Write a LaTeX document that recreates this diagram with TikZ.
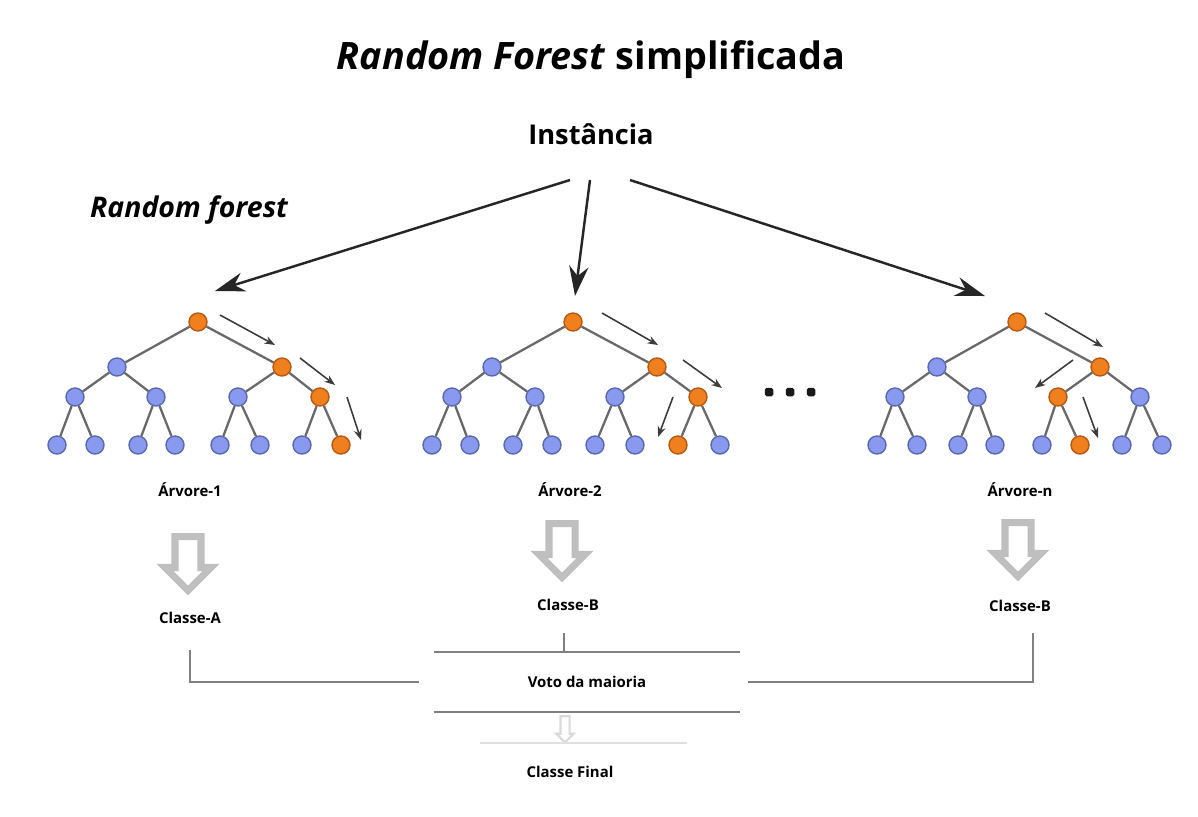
\documentclass[tikz,border=0pt]{standalone}
\usepackage{fontspec}
\setmainfont{Open Sans}
\usetikzlibrary{arrows.meta, shapes.arrows}

\definecolor{nodeblue}{RGB}{138,153,240}
\definecolor{nodeblueline}{RGB}{90,105,170}
\definecolor{nodeorange}{RGB}{240,128,30}
\definecolor{nodeorangeline}{RGB}{180,90,20}
\definecolor{edgegray}{RGB}{105,105,105}
\definecolor{pathgray}{RGB}{60,60,60}

\begin{document}
\begin{tikzpicture}[x=0.02cm,y=-0.02cm,
  tree node/.style={circle,fill=nodeblue,draw=nodeblueline,line width=0.8pt,minimum size=0.36cm,inner sep=0pt},
  hot node/.style={tree node,fill=nodeorange,draw=nodeorangeline},
  tree edge/.style={draw=edgegray,line width=1.3pt},
  path arrow/.style={-{Stealth[length=6pt,width=4.5pt]},draw=pathgray,line width=0.9pt},
  big arrow/.style={-{Stealth[length=17pt,width=11pt]},draw=black!85,line width=1.4pt},
  block arrow/.style={single arrow,draw=black!25,fill=white,line width=4pt,rotate=-90,
    minimum height=1.08cm,inner sep=0.19cm,single arrow head extend=0.2cm},
  small label/.style={font=\bfseries\fontsize{8.5}{10}\selectfont},
  join line/.style={draw=black!50,line width=1.3pt},
  box line/.style={draw=black!50,line width=1pt},
  dot/.style={rectangle,rounded corners=1pt,fill=black!90,minimum size=0.17cm,inner sep=0pt}]

  \useasboundingbox (0,0) rectangle (1198,816);

  % titles
  \node[font=\bfseries\fontsize{21.5}{26}\selectfont] (title) at (591,60) {\textit{Random Forest} simplificada};
  \node[font=\bfseries\fontsize{15.5}{18}\selectfont] (inst) at (591,134) {Instância};
  \node[font=\bfseries\itshape\fontsize{16.2}{19}\selectfont] (rf) at (189,210) {Random forest};

  % tree 1
  \node[hot node] (a0) at (198,322) {};
  \node[tree node] (a1) at (117,367) {};
  \node[hot node] (a2) at (282,367) {};
  \node[tree node] (a3) at (75,397) {};
  \node[tree node] (a4) at (156,397) {};
  \node[tree node] (a5) at (238,397) {};
  \node[hot node] (a6) at (320,397) {};
  \node[tree node] (a7) at (57,445) {};
  \node[tree node] (a8) at (95,445) {};
  \node[tree node] (a9) at (138,445) {};
  \node[tree node] (a10) at (175,445) {};
  \node[tree node] (a11) at (220,445) {};
  \node[tree node] (a12) at (260,445) {};
  \node[tree node] (a13) at (302,445) {};
  \node[hot node] (a14) at (341,445) {};

  % tree 2
  \node[hot node] (b0) at (573,322) {};
  \node[tree node] (b1) at (492,367) {};
  \node[hot node] (b2) at (657,367) {};
  \node[tree node] (b3) at (452,397) {};
  \node[tree node] (b4) at (535,397) {};
  \node[tree node] (b5) at (615,397) {};
  \node[hot node] (b6) at (698,397) {};
  \node[tree node] (b7) at (432,445) {};
  \node[tree node] (b8) at (470,445) {};
  \node[tree node] (b9) at (513,445) {};
  \node[tree node] (b10) at (552,445) {};
  \node[tree node] (b11) at (595,445) {};
  \node[tree node] (b12) at (635,445) {};
  \node[hot node] (b13) at (678,445) {};
  \node[tree node] (b14) at (720,445) {};

  % tree n
  \node[hot node] (c0) at (1017,322) {};
  \node[tree node] (c1) at (937,367) {};
  \node[hot node] (c2) at (1100,367) {};
  \node[tree node] (c3) at (895,397) {};
  \node[tree node] (c4) at (977,397) {};
  \node[hot node] (c5) at (1058,397) {};
  \node[tree node] (c6) at (1140,397) {};
  \node[tree node] (c7) at (877,445) {};
  \node[tree node] (c8) at (917,445) {};
  \node[tree node] (c9) at (958,445) {};
  \node[tree node] (c10) at (995,445) {};
  \node[tree node] (c11) at (1042,445) {};
  \node[hot node] (c12) at (1080,445) {};
  \node[tree node] (c13) at (1122,445) {};
  \node[tree node] (c14) at (1162,445) {};

  \path[tree edge]
    (a0) edge (a1) (a0) edge (a2)
    (a1) edge (a3) (a1) edge (a4) (a2) edge (a5) (a2) edge (a6)
    (a3) edge (a7) (a3) edge (a8) (a4) edge (a9) (a4) edge (a10)
    (a5) edge (a11) (a5) edge (a12) (a6) edge (a13) (a6) edge (a14)
    (b0) edge (b1) (b0) edge (b2)
    (b1) edge (b3) (b1) edge (b4) (b2) edge (b5) (b2) edge (b6)
    (b3) edge (b7) (b3) edge (b8) (b4) edge (b9) (b4) edge (b10)
    (b5) edge (b11) (b5) edge (b12) (b6) edge (b13) (b6) edge (b14)
    (c0) edge (c1) (c0) edge (c2)
    (c1) edge (c3) (c1) edge (c4) (c2) edge (c5) (c2) edge (c6)
    (c3) edge (c7) (c3) edge (c8) (c4) edge (c9) (c4) edge (c10)
    (c5) edge (c11) (c5) edge (c12) (c6) edge (c13) (c6) edge (c14);

  % decision path arrows
  \draw[path arrow] ([shift={(22,-7)}]a0.center) -- ([shift={(-7,-22)}]a2.center);
  \draw[path arrow] ([shift={(18,-9)}]a2.center) -- ([shift={(15,-12)}]a6.center);
  \draw[path arrow] ([shift={(27,0)}]a6.center) -- ([shift={(20,-5)}]a14.center);
  \draw[path arrow] ([shift={(29,-9)}]b0.center) -- ([shift={(1,-22)}]b2.center);
  \draw[path arrow] ([shift={(26,-7)}]b2.center) -- ([shift={(24,-9)}]b6.center);
  \draw[path arrow] ([shift={(-25,0)}]b6.center) -- ([shift={(-20,-8)}]b13.center);
  \draw[path arrow] ([shift={(28,-9)}]c0.center) -- ([shift={(3,-20)}]c2.center);
  \draw[path arrow] ([shift={(-27,-7)}]c2.center) -- ([shift={(-23,-9)}]c5.center);
  \draw[path arrow] ([shift={(25,0)}]c5.center) -- ([shift={(18,-7)}]c12.center);

  % instance arrows
  \coordinate (s1) at (570,180);
  \coordinate (s2) at (590,180);
  \coordinate (s3) at (630,180);
  \coordinate (e1) at (215,291);
  \coordinate (e2) at (575,296);
  \coordinate (e3) at (985,296);
  \draw[big arrow] (s1) -- (e1);
  \draw[big arrow] (s2) -- (e2);
  \draw[big arrow] (s3) -- (e3);

  \node[dot] (d1) at (769,392) {};
  \node[dot] (d2) at (790,392) {};
  \node[dot] (d3) at (811,392) {};

  % votes
  \node[small label] (t1) at (190,490) {Árvore-1};
  \node[small label] (t2) at (570,490) {Árvore-2};
  \node[small label] (t3) at (1020,490) {Árvore-n};
  \node[block arrow] (k1) at (188,557) {};
  \node[block arrow] (k2) at (562,544) {};
  \node[block arrow] (k3) at (1018,543) {};
  \node[small label] (ca) at (190,618) {Classe-A};
  \node[small label] (cb1) at (568,605) {Classe-B};
  \node[small label] (cb2) at (1020,606) {Classe-B};

  \node[small label,minimum width=6.12cm,minimum height=1.2cm] (voto) at (587,682) {Voto da maioria};
  \draw[box line] (voto.north west) -- (voto.north east);
  \draw[box line] (voto.south west) -- (voto.south east);
  \draw[join line,shorten >=0.3cm] ([shift={(0,32)}]ca.center) |- (voto.west);
  \draw[join line,shorten >=0.16cm] ([shift={(13,27)}]cb2.center) |- (voto.east);
  \coordinate (m1) at ([shift={(-4,28)}]cb1.center);
  \draw[join line] (m1) -- (m1 |- voto.north);

  \node[single arrow,draw=black!15,fill=white,line width=1.2pt,rotate=-90,minimum height=0.52cm,
    inner sep=0.07cm,single arrow head extend=0.08cm] (k4) at (565,727) {};
  \node[small label] (cf) at (570,772) {Classe Final};
  \draw[draw=black!12,line width=0.6pt] ([shift={(-90,-29)}]cf.center) -- ([shift={(117,-29)}]cf.center);
\end{tikzpicture}
\end{document}
